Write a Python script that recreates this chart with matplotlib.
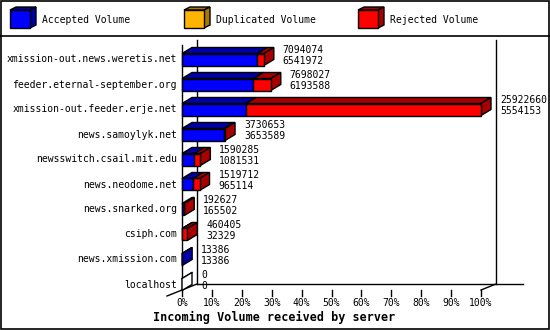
import matplotlib
matplotlib.use("Agg")
import matplotlib.pyplot as plt
from matplotlib.patches import Polygon, Rectangle
from matplotlib.lines import Line2D

# ---------------- data ----------------
servers = [
    "xmission-out.news.weretis.net",
    "feeder.eternal-september.org",
    "xmission-out.feeder.erje.net",
    "news.samoylyk.net",
    "newsswitch.csail.mit.edu",
    "news.neodome.net",
    "news.snarked.org",
    "csiph.com",
    "news.xmission.com",
    "localhost",
]
total_volume = [7094074, 7698027, 25922660, 3730653, 1590285, 1519712, 192627, 460405, 13386, 0]
accepted_volume = [6541972, 6193588, 5554153, 3653589, 1081531, 965114, 165502, 32329, 13386, 0]
duplicated_volume = [0, 0, 0, 0, 0, 0, 0, 0, 0, 0]
rejected_volume = [t - a - d for t, a, d in zip(total_volume, accepted_volume, duplicated_volume)]

x_ticks = [0, 10, 20, 30, 40, 50, 60, 70, 80, 90, 100]
x_tick_labels = [f"{t}%" for t in x_ticks]
legend_labels = ["Accepted Volume", "Duplicated Volume", "Rejected Volume"]
title = "Incoming Volume received by server"

front_colors = ["#0000ff", "#ffb400", "#ff0000"]
dark_colors = ["#0000a8", "#a87800", "#a80000"]

W, H = 550, 330
MONO = "DejaVu Sans Mono"
FS = 7.0
LW = 1.0

fig = plt.figure(figsize=(W / 100, H / 100), dpi=100)
bg = fig.add_axes([0, 0, 1, 1])
bg.set_xlim(0, W)
bg.set_ylim(H, 0)
bg.axis("off")

ax = fig.add_axes([182 / W, (H - 290) / H, 299 / W, 245 / H])
ax.set_xlim(0, 100)
ax.set_ylim(9.22, -0.58)
ax.axis("off")


def to_px(x, y):
    d = ax.transData.transform((x, y))
    return bg.transData.inverted().transform(d)


# outer border and legend separator
bg.add_patch(Rectangle((0.5, 0.5), W - 1.5, H - 1.5, fill=False, edgecolor="black", lw=1.2))
bg.add_line(Line2D([0, W], [35.5, 35.5], color="black", lw=1.2))

# legend
leg_x = [10, 184, 358]
for k, (lx, lab) in enumerate(zip(leg_x, legend_labels)):
    dx, dy = 6, -3
    x0, x1, y0, y1 = lx, lx + 20, 10, 28
    bg.add_patch(Polygon([(x0, y0), (x1, y0), (x1 + dx, y0 + dy), (x0 + dx, y0 + dy)],
                         closed=True, facecolor=dark_colors[k], edgecolor="black", lw=LW))
    bg.add_patch(Polygon([(x1, y0), (x1, y1), (x1 + dx, y1 + dy), (x1 + dx, y0 + dy)],
                         closed=True, facecolor=dark_colors[k], edgecolor="black", lw=LW))
    bg.add_patch(Rectangle((x0, y0), 20, 18, facecolor=front_colors[k], edgecolor="black", lw=LW))
    bg.text(lx + 32, 20, lab, fontsize=FS, family=MONO, va="center", ha="left")

# walls / floor
px0 = to_px(0, 9.22)
px100 = to_px(100, 9.22)
x0p, ybot = px0
x100p = px100[0]
WDX, WDY = 15, -6
wall = dict(color="black", lw=LW)
bg.add_line(Line2D([x0p, x0p], [45, ybot], **wall))
bg.add_line(Line2D([x0p + WDX, x0p + WDX], [40, ybot + WDY], **wall))
bg.add_line(Line2D([x0p - WDX, x0p + WDX], [ybot - WDY, ybot + WDY], **wall))
bg.add_line(Line2D([x0p + WDX, 523], [ybot + WDY, ybot + WDY], **wall))
bg.add_line(Line2D([x100p + WDX, x100p + WDX], [40, ybot + WDY], **wall))
bg.add_line(Line2D([x100p, x100p + WDX], [ybot, ybot + WDY], **wall))

for t, lab in zip(x_ticks, x_tick_labels):
    xt = to_px(t, 9.22)[0]
    bg.add_line(Line2D([xt, xt], [ybot, ybot + 6], **wall))
    bg.text(xt, ybot + 13, lab, fontsize=FS, family=MONO, ha="center", va="center")

bg.text(274, 317, title, fontsize=8.5, family=MONO, weight="bold", ha="center", va="center")

# bars
vmax = max(total_volume)
BH = 0.48
BDX, BDY = 10, -6
for i, name in enumerate(servers):
    vals = [accepted_volume[i], duplicated_volume[i], rejected_volume[i]]
    pcts = [v / vmax * 100 for v in vals]
    left = 0.0
    last_k = None
    for k, p in enumerate(pcts):
        if p <= 0:
            continue
        ax.barh(i, p, left=left, height=BH, color=front_colors[k], edgecolor="black",
                lw=LW, clip_on=False, zorder=3)
        a = to_px(left, i - BH / 2)
        b = to_px(left + p, i - BH / 2)
        bg.add_patch(Polygon([a, b, (b[0] + BDX, b[1] + BDY), (a[0] + BDX, a[1] + BDY)],
                             closed=True, facecolor=dark_colors[k], edgecolor="black", lw=LW, zorder=3))
        left += p
        last_k = k
    end = left
    top = to_px(end, i - BH / 2)
    bot = to_px(end, i + BH / 2)
    side_col = dark_colors[last_k] if last_k is not None else "white"
    if last_k is None:
        st = to_px(0, i - BH / 2)
        bg.add_line(Line2D([st[0], st[0] + BDX], [st[1], st[1] + BDY], color="black", lw=LW, zorder=3))
    bg.add_patch(Polygon([top, bot, (bot[0] + BDX, bot[1] + BDY), (top[0] + BDX, top[1] + BDY)],
                         closed=True, facecolor=side_col, edgecolor="black", lw=LW, zorder=3))
    cen = to_px(end, i)
    bg.text(cen[0] + 19, cen[1] - 9.5, str(total_volume[i]), fontsize=FS, family=MONO,
            ha="left", va="center")
    bg.text(cen[0] + 19, cen[1] + 1.5, str(accepted_volume[i]), fontsize=FS, family=MONO,
            ha="left", va="center")
    lab = to_px(0, i)
    bg.text(lab[0] - 5, lab[1], name, fontsize=FS, family=MONO, ha="right", va="center")

fig.savefig("out.png", dpi=100)
